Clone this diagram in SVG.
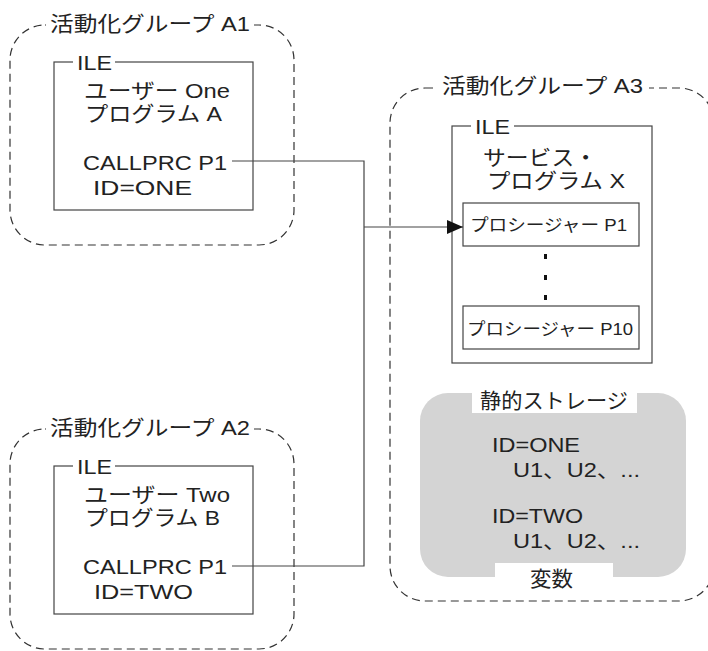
<svg xmlns="http://www.w3.org/2000/svg" width="708" height="651" viewBox="0 0 708 651">
<style>
text{font-family:"Liberation Sans","Noto Sans CJK JP",sans-serif;fill:#222;}
.t{font-size:21px;}
.s{font-size:17px;}
.grp{fill:none;stroke:#333;stroke-width:1.2;stroke-dasharray:8 5;}
.box{fill:#fff;stroke:#444;stroke-width:1.2;}
.bg{fill:#fff;stroke:none;}
.con{fill:none;stroke:#444;stroke-width:1.2;}
.store{fill:#d4d4d4;stroke:none;}
</style>
<defs>
<marker id="arr" markerUnits="userSpaceOnUse" markerWidth="16" markerHeight="14" refX="16" refY="7" orient="auto">
<path d="M0,0 L16,7 L0,14 z" fill="#111"/>
</marker>
</defs>
<rect width="708" height="651" fill="#fff"/>

<g id="group-a1">
<rect class="grp" x="10" y="25" width="284" height="220" rx="35"/>
<rect class="bg" x="46" y="12" width="208" height="24"/>
<text class="t" x="50" y="31" font-size="22" textLength="200" lengthAdjust="spacingAndGlyphs">活動化グループ A1</text>
</g>
<g id="ile-a">
<rect class="box" x="54" y="62" width="199" height="148"/>
<rect class="bg" x="73" y="55" width="42" height="16"/>
<text class="t" x="77" y="70" textLength="35" lengthAdjust="spacingAndGlyphs">ILE</text>
<text class="t" x="84" y="98" textLength="146" lengthAdjust="spacingAndGlyphs">ユーザー One</text>
<text class="t" x="85" y="121" textLength="137" lengthAdjust="spacingAndGlyphs">プログラム A</text>
<text class="t" x="83" y="170" textLength="144" lengthAdjust="spacingAndGlyphs">CALLPRC P1</text>
<text class="t" x="93" y="195" textLength="99" lengthAdjust="spacingAndGlyphs">ID=ONE</text>
</g>

<g id="group-a2">
<rect class="grp" x="10" y="429" width="284" height="220" rx="35"/>
<rect class="bg" x="46" y="416" width="208" height="24"/>
<text class="t" x="50" y="435" font-size="22" textLength="200" lengthAdjust="spacingAndGlyphs">活動化グループ A2</text>
</g>
<g id="ile-b">
<rect class="box" x="54" y="466" width="199" height="148"/>
<rect class="bg" x="73" y="459" width="42" height="16"/>
<text class="t" x="77" y="474" textLength="35" lengthAdjust="spacingAndGlyphs">ILE</text>
<text class="t" x="84" y="502" textLength="146" lengthAdjust="spacingAndGlyphs">ユーザー Two</text>
<text class="t" x="85" y="525" textLength="135" lengthAdjust="spacingAndGlyphs">プログラム B</text>
<text class="t" x="83" y="574" textLength="144" lengthAdjust="spacingAndGlyphs">CALLPRC P1</text>
<text class="t" x="94" y="599" textLength="99" lengthAdjust="spacingAndGlyphs">ID=TWO</text>
</g>

<g id="group-a3">
<rect class="grp" x="390" y="88" width="324" height="513" rx="35"/>
<rect class="bg" x="437" y="74" width="212" height="24"/>
<text class="t" x="442" y="93" font-size="22" textLength="201" lengthAdjust="spacingAndGlyphs">活動化グループ A3</text>
</g>
<g id="ile-x">
<rect class="box" x="452" y="126" width="200" height="237"/>
<rect class="bg" x="471" y="119" width="43" height="16"/>
<text class="t" x="475" y="134" textLength="35" lengthAdjust="spacingAndGlyphs">ILE</text>
<text class="t" x="483" y="165" textLength="114" lengthAdjust="spacingAndGlyphs">サービス・</text>
<text class="t" x="487" y="188" textLength="138" lengthAdjust="spacingAndGlyphs">プログラム X</text>
</g>
<g id="proc-p1">
<rect class="box" x="463" y="203" width="176" height="43"/>
<text class="s" x="470" y="231" textLength="157" lengthAdjust="spacingAndGlyphs">プロシージャー P1</text>
</g>
<g id="dots">
<rect x="544" y="254" width="3" height="5" fill="#111"/>
<rect x="544" y="275" width="3" height="5" fill="#111"/>
<rect x="544" y="295" width="3" height="5" fill="#111"/>
</g>
<g id="proc-p10">
<rect class="box" x="463" y="306" width="176" height="43"/>
<text class="s" x="467" y="335" textLength="166" lengthAdjust="spacingAndGlyphs">プロシージャー P10</text>
</g>
<g id="static-storage">
<rect class="store" x="420" y="393" width="266" height="184" rx="28"/>
<rect class="bg" x="472" y="390" width="165" height="23"/>
<text class="t" x="480" y="408" textLength="148" lengthAdjust="spacingAndGlyphs">静的ストレージ</text>
<text class="t" x="492" y="452" textLength="88" lengthAdjust="spacingAndGlyphs">ID=ONE</text>
<text class="t" x="513" y="477" textLength="127" lengthAdjust="spacingAndGlyphs">U1、U2、...</text>
<text class="t" x="492" y="523" textLength="91" lengthAdjust="spacingAndGlyphs">ID=TWO</text>
<text class="t" x="513" y="548" textLength="127" lengthAdjust="spacingAndGlyphs">U1、U2、...</text>
<rect class="bg" x="495" y="563" width="118" height="15"/>
<text class="t" x="530" y="586" textLength="43" lengthAdjust="spacingAndGlyphs">変数</text>
</g>

<g id="connectors">
<polyline class="con" points="232,161 364,161 364,566 232,566"/>
<line class="con" x1="364" y1="227" x2="463" y2="227" marker-end="url(#arr)"/>
</g>
</svg>
